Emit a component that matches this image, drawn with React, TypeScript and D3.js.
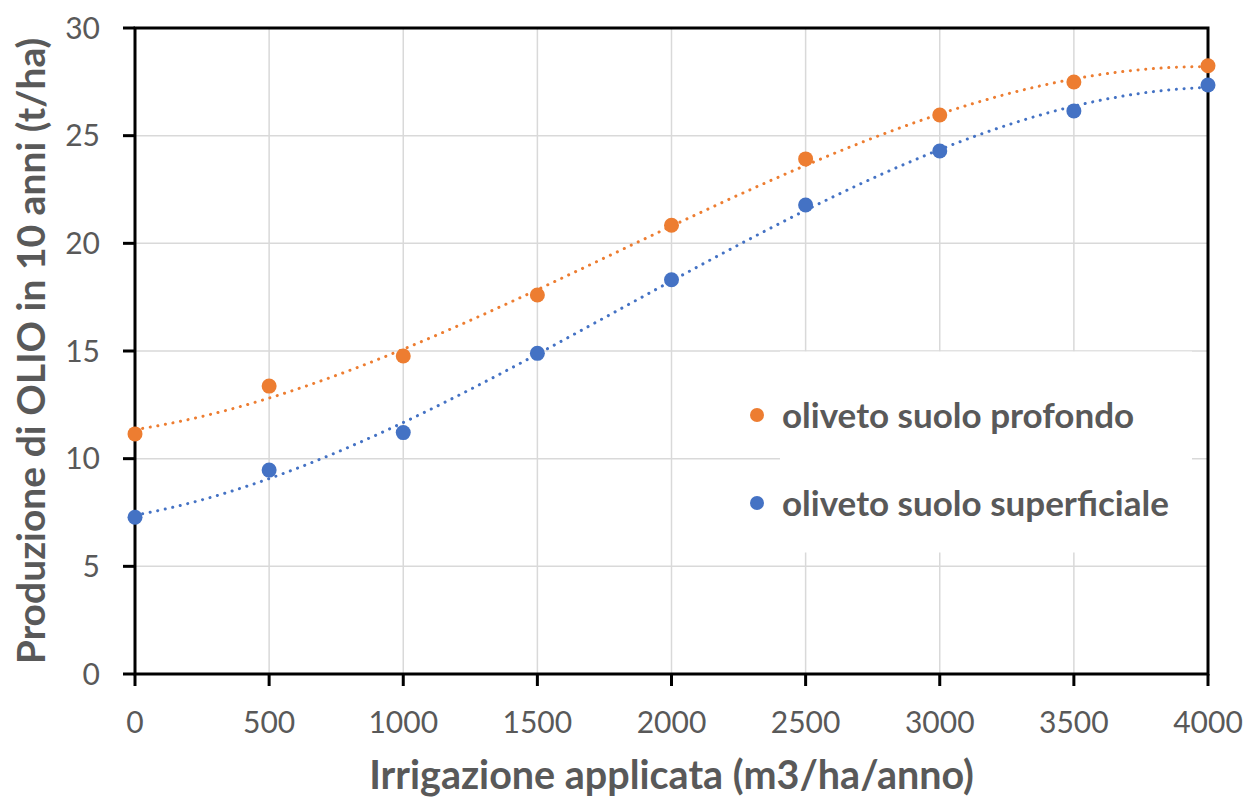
import React from "react";
import * as d3 from "d3";

const irrigazione = [0, 500, 1000, 1500, 2000, 2500, 3000, 3500, 4000];
const profondo = [11.15, 13.37, 14.77, 17.6, 20.84, 23.92, 25.96, 27.49, 28.25];
const superficiale = [7.28, 9.47, 11.21, 14.89, 18.31, 21.78, 24.29, 26.15, 27.35];
const xTicks = [0, 500, 1000, 1500, 2000, 2500, 3000, 3500, 4000];
const yTicks = [0, 5, 10, 15, 20, 25, 30];

const series = [
  { name: "oliveto suolo profondo", values: profondo, color: "#ED7D31" },
  { name: "oliveto suolo superficiale", values: superficiale, color: "#4472C4" },
];

const font = "Lato, 'Noto Sans', sans-serif";
const grey = "#595959";

// least squares polynomial (cubic, like the excel trendline)
function polyFit(xs: number[], ys: number[], order: number) {
  const n = order + 1;
  const A: number[][] = [];
  for (let i = 0; i < n; i++) {
    A.push([]);
    for (let j = 0; j < n; j++) A[i].push(d3.sum(xs, x => Math.pow(x, i + j)));
    A[i].push(d3.sum(xs, (x, k) => ys[k] * Math.pow(x, i)));
  }
  for (let c = 0; c < n; c++) {
    let p = c;
    for (let r = c + 1; r < n; r++) if (Math.abs(A[r][c]) > Math.abs(A[p][c])) p = r;
    [A[c], A[p]] = [A[p], A[c]];
    for (let r = 0; r < n; r++) {
      if (r === c) continue;
      const f = A[r][c] / A[c][c];
      for (let k = c; k <= n; k++) A[r][k] -= f * A[c][k];
    }
  }
  const coef = A.map((row, i) => row[n] / row[i]);
  return (x: number) => coef.reduce((s, c, i) => s + c * Math.pow(x, i), 0);
}

export default function App() {
  const width = 1250;
  const height = 799;
  const m = { left: 135, right: 1208, top: 28, bottom: 674 };

  const x = d3.scaleLinear().domain([0, 4000]).range([m.left, m.right]);
  const y = d3.scaleLinear().domain([0, 30]).range([m.bottom, m.top]);

  const line = d3
    .line<number>()
    .x(d => x(d))
    .curve(d3.curveLinear);

  const samples = d3.range(0, 4000.1, 20);

  return (
    <svg width={width} height={height} style={{ position: "absolute", left: 0, top: 0, background: "#fff" }}>
      {/* grid */}
      {xTicks.slice(1, -1).map(t => (
        <line key={"gx" + t} x1={x(t)} x2={x(t)} y1={m.top} y2={m.bottom} stroke="#D9D9D9" strokeWidth={1.5} />
      ))}
      {yTicks.slice(1, -1).map(t => (
        <line key={"gy" + t} x1={m.left} x2={m.right} y1={y(t)} y2={y(t)} stroke="#D9D9D9" strokeWidth={1.5} />
      ))}

      {/* trendlines */}
      {series.map(s => {
        const xs = irrigazione.map(v => v / 1000);
        const f = polyFit(xs, s.values, 3);
        const l = line.y(d => y(f(d / 1000)));
        return (
          <path
            key={"t" + s.name}
            d={l(samples) || ""}
            fill="none"
            stroke={s.color}
            strokeWidth={3}
            strokeDasharray="0.1 7.6"
            strokeLinecap="round"
          />
        );
      })}

      {/* frame and ticks */}
      <rect x={m.left} y={m.top} width={m.right - m.left} height={m.bottom - m.top} fill="none" stroke="#000" strokeWidth={3} />
      {yTicks.map(t => (
        <g key={"yt" + t}>
          <line x1={m.left - 12} x2={m.left} y1={y(t)} y2={y(t)} stroke="#000" strokeWidth={3} />
          <text x={100} y={y(t)} dy="0.36em" textAnchor="end" fontFamily={font} fontSize={30} fill={grey}>
            {t}
          </text>
        </g>
      ))}
      {xTicks.map(t => (
        <g key={"xt" + t}>
          <line x1={x(t)} x2={x(t)} y1={m.bottom} y2={m.bottom + 12} stroke="#000" strokeWidth={3} />
          <text x={x(t)} y={733} textAnchor="middle" fontFamily={font} fontSize={30} fill={grey}>
            {t}
          </text>
        </g>
      ))}

      {/* points */}
      {series.map(s =>
        s.values.map((v, i) => (
          <circle key={s.name + i} cx={x(irrigazione[i])} cy={y(v)} r={7.5} fill={s.color} />
        ))
      )}

      {/* axis titles */}
      <text x={(m.left + m.right) / 2} y={789} textAnchor="middle" fontFamily={font} fontSize={39.5} fontWeight="bold" fill={grey}>
        Irrigazione applicata (m3/ha/anno)
      </text>
      <text
        transform={`translate(45 ${(m.top + m.bottom) / 2}) rotate(-90)`}
        textAnchor="middle"
        fontFamily={font}
        fontSize={39}
        fontWeight="bold"
        fill={grey}
      >
        Produzione di OLIO in 10 anni (t/ha)
      </text>

      {/* legend */}
      <rect x={780} y={351.5} width={412} height={201} fill="#fff" />
      {series.map((s, i) => (
        <g key={"lg" + s.name} transform={`translate(0 ${415 + i * 88})`}>
          <circle cx={757} cy={0} r={7} fill={s.color} />
          <text x={782} y={0} dy="0.36em" fontFamily={font} fontSize={35} fontWeight="bold" fill={grey}>
            {s.name}
          </text>
        </g>
      ))}
    </svg>
  );
}
